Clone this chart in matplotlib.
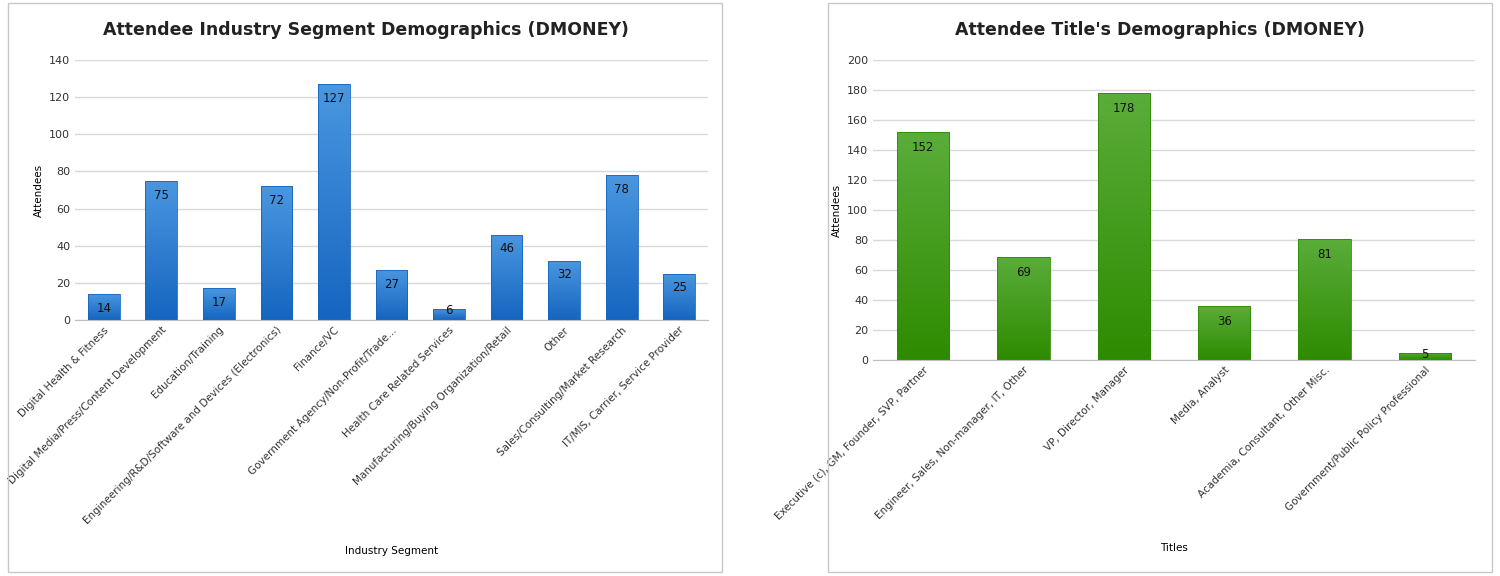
import numpy as np
import matplotlib.pyplot as plt
from matplotlib.patches import Rectangle
from matplotlib.colors import LinearSegmentedColormap

industries = ["Digital Health & Fitness", "Digital Media/Press/Content Development",
              "Education/Training", "Engineering/R&D/Software and Devices (Electronics)",
              "Finance/VC", "Government Agency/Non-Profit/Trade...",
              "Health Care Related Services", "Manufacturing/Buying Organization/Retail",
              "Other", "Sales/Consulting/Market Research", "IT/MIS, Carrier, Service Provider"]
industry_counts = [14, 75, 17, 72, 127, 27, 6, 46, 32, 78, 25]

titles = ["Executive (c), GM, Founder, SVP, Partner", "Engineer, Sales, Non-manager, IT, Other",
          "VP, Director, Manager", "Media, Analyst", "Academia, Consultant, Other Misc.",
          "Government/Public Policy Professional"]
title_counts = [152, 69, 178, 36, 81, 5]

W, H = 1500, 576
fig = plt.figure(figsize=(15, 5.76), dpi=100)
fig.patch.set_facecolor("white")

# panel frames
for x0, x1 in [(8, 722), (828, 1492)]:
    fig.patches.append(Rectangle((x0 / W, 1 - 572 / H), (x1 - x0) / W, 569 / H,
                                 transform=fig.transFigure, fill=False,
                                 edgecolor="#c8c8c8", linewidth=1))


def gradient_bars(ax, cats, vals, top, bottom, width):
    cmap = LinearSegmentedColormap.from_list("g", [bottom, top])
    grad = np.linspace(0, 1, 256).reshape(-1, 1)
    bars = ax.bar(range(len(cats)), vals, width=width, color="none",
                  edgecolor=bottom, linewidth=0.6, zorder=3)
    for b in bars:
        x, w, h = b.get_x(), b.get_width(), b.get_height()
        im = ax.imshow(grad, cmap=cmap, extent=(x, x + w, 0, h), origin="lower",
                       aspect="auto", zorder=2)
        im.set_clip_path(b)
        ax.text(x + w / 2, h - 0.03 * ax.get_ylim()[1], str(int(h)), ha="center",
                va="top" if h > 10 else "bottom", fontsize=8.5, zorder=4,
                color="#111111")
    ax.set_xlim(-0.5, len(cats) - 0.5)


def style(ax, cats, ymax, step, xlabel):
    ax.set_ylim(0, ymax)
    ax.set_yticks(range(0, ymax + 1, step))
    ax.grid(axis="y", color="#d9d9d9", linewidth=1, zorder=0)
    ax.set_axisbelow(True)
    for s in ["top", "right", "left"]:
        ax.spines[s].set_visible(False)
    ax.spines["bottom"].set_color("#bfbfbf")
    ax.tick_params(length=0, labelsize=8, colors="#333333")
    ax.set_xticks(range(len(cats)))
    ax.set_xticklabels(cats, rotation=45, ha="right", rotation_mode="anchor", fontsize=7.5)
    ax.set_ylabel("Attendees", fontsize=7.5)
    ax.set_xlabel(xlabel, fontsize=7.5)


# left chart
ax1 = fig.add_axes([75 / W, 1 - 320 / H, 633 / W, 260 / H])
ax1.set_ylim(0, 140)
gradient_bars(ax1, industries, industry_counts, "#4a97e0", "#1565c0", 0.55)
style(ax1, industries, 140, 20, "Industry Segment")
ax1.xaxis.set_label_coords(0.5, -0.87)
fig.text(366 / W, 1 - 30 / H, "Attendee Industry Segment Demographics (DMONEY)",
         ha="center", va="center", fontsize=12.5, fontweight="bold", color="#222222")

# right chart
ax2 = fig.add_axes([873 / W, 1 - 360 / H, 602 / W, 300 / H])
ax2.set_ylim(0, 200)
gradient_bars(ax2, titles, title_counts, "#5aad3a", "#2e8b00", 0.52)
style(ax2, titles, 200, 20, "Titles")
ax2.xaxis.set_label_coords(0.5, -0.61)
fig.text(1160 / W, 1 - 30 / H, "Attendee Title's Demographics (DMONEY)",
         ha="center", va="center", fontsize=12.5, fontweight="bold", color="#222222")

fig.savefig("out.png", dpi=100)
